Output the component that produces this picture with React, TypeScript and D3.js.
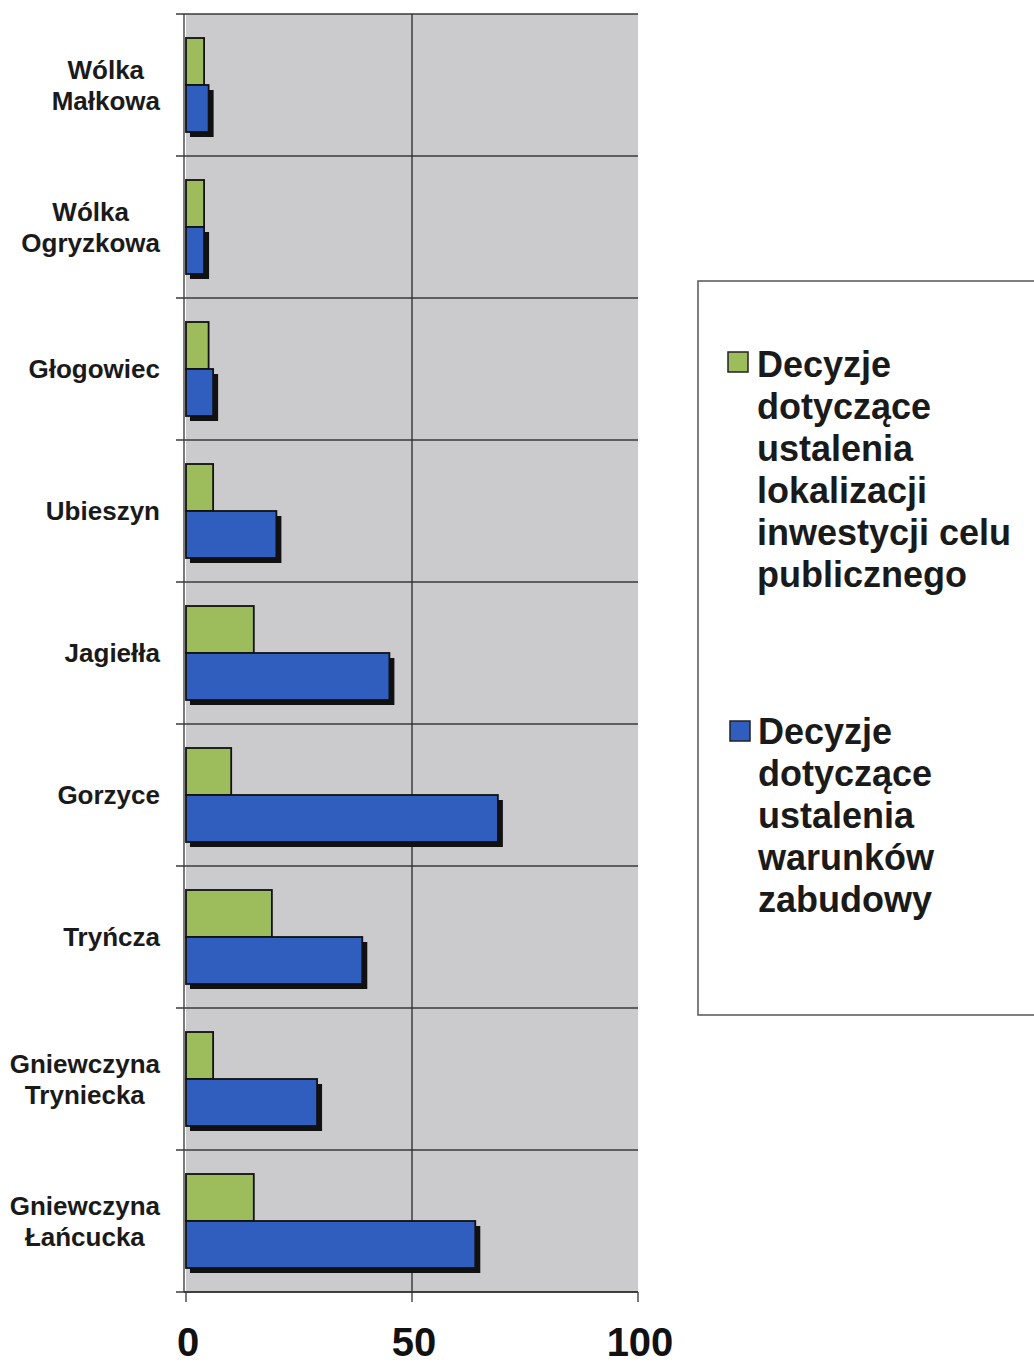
import React from "react";
import * as d3 from "d3";

const categories = [
  ["Wólka", "Małkowa"],
  ["Wólka", "Ogryzkowa"],
  ["Głogowiec"],
  ["Ubieszyn"],
  ["Jagiełła"],
  ["Gorzyce"],
  ["Tryńcza"],
  ["Gniewczyna", "Tryniecka"],
  ["Gniewczyna", "Łańcucka"],
];
const publicInvestment = [4, 4, 5, 6, 15, 10, 19, 6, 15];
const buildingConditions = [5, 4, 6, 20, 45, 69, 39, 29, 64];
const xTicks = [0, 50, 100];
const legendGreen = ["Decyzje", "dotyczące", "ustalenia", "lokalizacji", "inwestycji celu", "publicznego"];
const legendBlue = ["Decyzje", "dotyczące", "ustalenia", "warunków", "zabudowy"];

const W = 1034;
const H = 1367;
const plot = { left: 186, right: 638, top: 14, bottom: 1292 };
const font = "'Liberation Sans', Arial, sans-serif";
const GREEN = "#9dbd5c";
const BLUE = "#2f5ebf";

let ctx: CanvasRenderingContext2D | null = null;
const measure = (t: string, f: string) => {
  if (!ctx) ctx = document.createElement("canvas").getContext("2d");
  if (!ctx) return t.length * 14;
  ctx.font = f;
  return ctx.measureText(t).width;
};

export default function App() {
  const keys = categories.map((c) => c.join(" "));
  const x = d3.scaleLinear().domain([0, 100]).range([plot.left, plot.right]);
  const y = d3
    .scaleBand<string>()
    .domain(keys)
    .range([plot.top, plot.bottom])
    .paddingInner(0.338)
    .paddingOuter(0.169);
  const sub = d3.scaleBand<string>().domain(["g", "b"]).range([0, y.bandwidth()]);
  const step = y.step();
  const bounds = d3.range(keys.length + 1).map((i) => plot.top + i * step);
  const labelFont = `bold 26px ${font}`;

  return (
    <svg
      width={W}
      height={H}
      style={{ position: "absolute", left: 0, top: 0, background: "#fff" }}
      fontFamily={font}
    >
      <rect x={plot.left} y={plot.top} width={plot.right - plot.left} height={plot.bottom - plot.top} fill="#cbcbce" />
      {bounds.map((b, i) => (
        <line key={"h" + i} x1={176} x2={plot.right} y1={b} y2={b} stroke="#3a3a3a" strokeWidth={1.3} />
      ))}
      {xTicks.slice(1, -1).map((t) => (
        <line key={"v" + t} x1={x(t)} x2={x(t)} y1={plot.top} y2={plot.bottom} stroke="#2a2a2a" strokeWidth={1.3} />
      ))}
      <line x1={plot.left - 2} x2={plot.left - 2} y1={plot.top} y2={plot.bottom} stroke="#333" strokeWidth={1.3} />
      <line x1={plot.left - 2} x2={plot.right} y1={plot.bottom} y2={plot.bottom} stroke="#333" strokeWidth={1.3} />
      {xTicks.map((t) => (
        <g key={"t" + t}>
          <line x1={x(t)} x2={x(t)} y1={plot.bottom} y2={plot.bottom + 10} stroke="#333" strokeWidth={1.3} />
          <text x={x(t) + 2} y={1356} textAnchor="middle" fontSize={40} fontWeight="bold" fill="#111">
            {t}
          </text>
        </g>
      ))}
      {keys.map((k, i) => {
        const y0 = y(k) as number;
        const gy = y0 + (sub("g") as number);
        const by = y0 + (sub("b") as number);
        const h = sub.bandwidth();
        return (
          <g key={k}>
            <rect x={x(0) + 4} y={by + 5} width={x(buildingConditions[i]) - x(0) + 1} height={h} fill="#111" />
            <rect x={x(0)} y={gy} width={x(publicInvestment[i]) - x(0)} height={h} fill={GREEN} stroke="#111" strokeWidth={1.8} />
            <rect x={x(0)} y={by} width={x(buildingConditions[i]) - x(0)} height={h} fill={BLUE} stroke="#111" strokeWidth={1.8} />
          </g>
        );
      })}
      {categories.map((lines, i) => {
        const cy = (y(keys[i]) as number) + y.bandwidth() / 2;
        const maxW = d3.max(lines, (l) => measure(l, labelFont)) as number;
        const cx = 160 - maxW / 2;
        const lh = 31;
        const startY = cy - ((lines.length - 1) * lh) / 2 + 9;
        return (
          <text key={"l" + i} x={cx} textAnchor="middle" fontSize={26} fontWeight="bold" fill="#1a1a1a">
            {lines.map((l, j) => (
              <tspan key={j} x={cx} y={startY + j * lh}>
                {l}
              </tspan>
            ))}
          </text>
        );
      })}
      <rect x={698} y={281} width={420} height={734} fill="#fff" stroke="#555" strokeWidth={1.5} />
      <rect x={728} y={352} width={20} height={20} fill={GREEN} stroke="#222" strokeWidth={1.5} />
      {legendGreen.map((l, j) => (
        <text key={"lg" + j} x={757} y={377 + j * 42} fontSize={36} fontWeight="bold" fill="#1a1a1a">
          {l}
        </text>
      ))}
      <rect x={730} y={721} width={20} height={20} fill={BLUE} stroke="#222" strokeWidth={1.5} />
      {legendBlue.map((l, j) => (
        <text key={"lb" + j} x={758} y={744 + j * 42} fontSize={36} fontWeight="bold" fill="#1a1a1a">
          {l}
        </text>
      ))}
    </svg>
  );
}
